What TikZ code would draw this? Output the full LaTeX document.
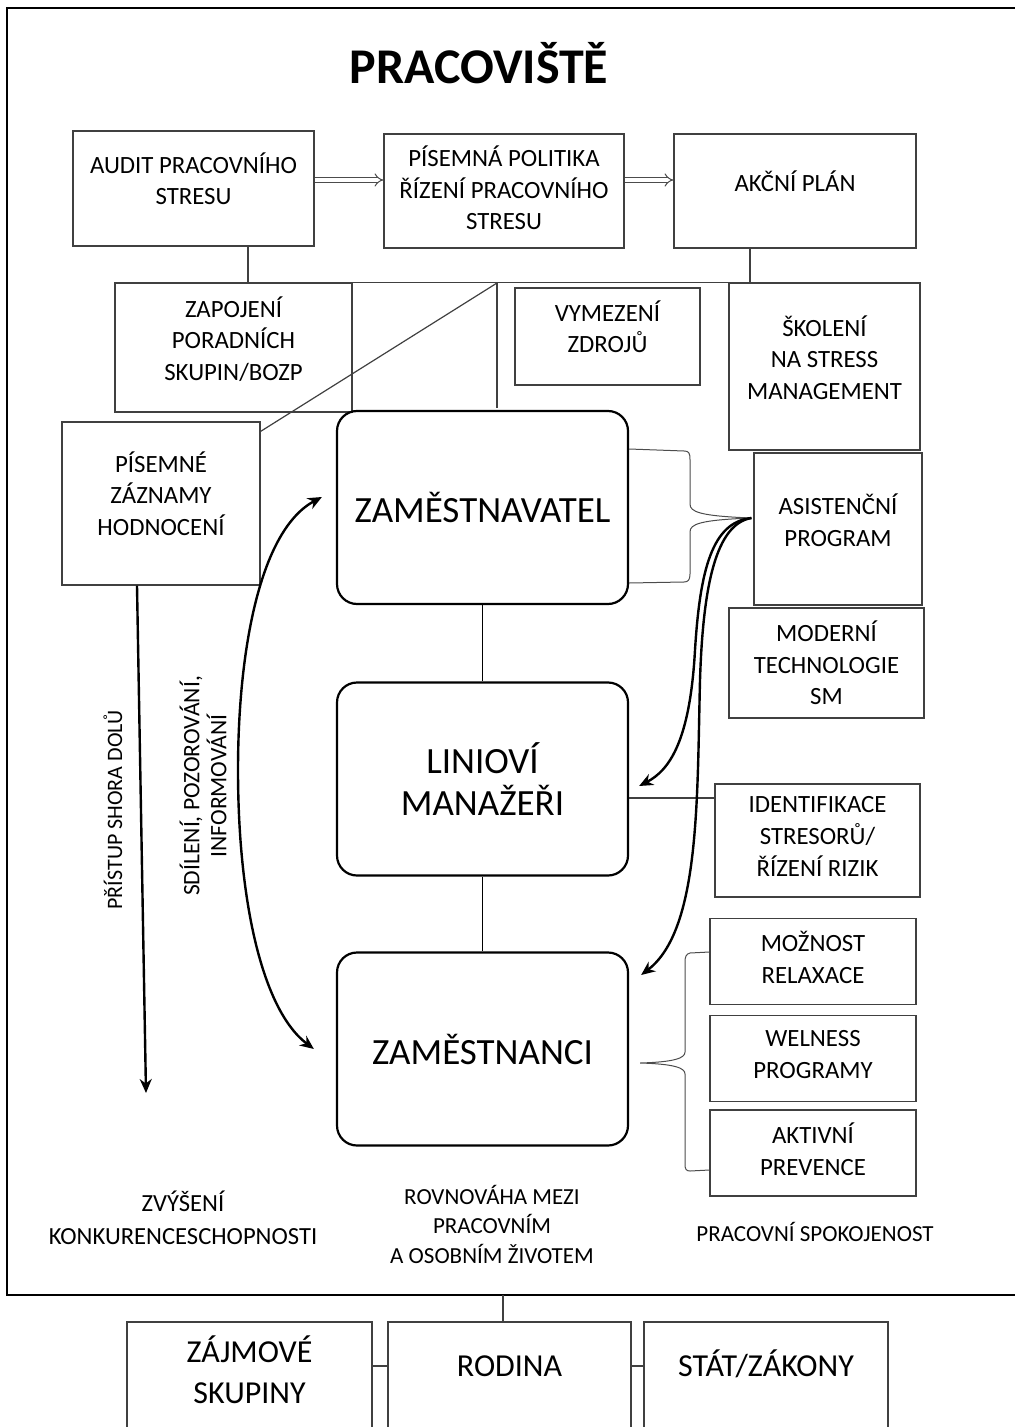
\documentclass[tikz,border=0pt]{standalone}
\usepackage{fontspec}
\setmainfont{Carlito}
\usetikzlibrary{arrows.meta, positioning}

\tikzset{
  box/.style={draw=black!75, line width=0.6pt, align=center, inner sep=0pt,
    font=\fontsize{12.4}{15.8}\selectfont},
  lift/.style={text depth=#1},
  mainbox/.style={draw, line width=1.1pt, rounded corners=10pt, align=center,
    minimum width=145.5pt, minimum height=96.5pt, font=\fontsize{18.5}{21}\selectfont},
  outerbox/.style={box, font=\fontsize{16}{20.5}\selectfont,
    minimum width=#1, minimum height=59pt},
  link/.style={draw=black!75, line width=0.6pt},
  flow/.style={draw=black!70, double, double distance=1.8pt, line width=0.5pt, -{Implies}},
  curvy/.style={line width=1.2pt, -{Stealth[length=7pt,width=6pt]}},
  curly/.style={draw=black!70, line width=0.5pt},
  note/.style={font=\fontsize{11.5}{16.5}\selectfont, align=center},
}

\begin{document}
\begin{tikzpicture}[x=0.5pt, y=-0.5pt]
  \useasboundingbox (0,0) rectangle (1014,1427);

  % ── Workplace frame ──
  \draw[line width=0.7pt] (7,8) rectangle (1025,1295);
  \node[font=\bfseries\fontsize{25}{28}\selectfont] (title) at (479,63) {PRACOVIŠTĚ};

  % ── Top row ──
  \node[box, lift=10pt, minimum width=120.5pt, minimum height=57.5pt] (audit)
    at (193.5,188.5) {AUDIT PRACOVNÍHO\\STRESU};
  \node[box, lift=3pt, minimum width=120pt, minimum height=57pt] (politika)
    at (504,191) {PÍSEMNÁ POLITIKA\\ŘÍZENÍ PRACOVNÍHO\\STRESU};
  \node[box, lift=10pt, minimum width=121pt, minimum height=57pt] (plan)
    at (795,191) {AKČNÍ PLÁN};
  \draw[flow] ([yshift=4.25pt]audit.east) -- ([yshift=4.25pt]audit.east -| politika.west);
  \draw[flow] ([yshift=5.5pt]politika.east) -- ([yshift=5.5pt]politika.east -| plan.west);

  % ── Second row ──
  \node[box, lift=9pt, minimum width=118.5pt, minimum height=64.5pt] (poradni)
    at (233.5,347.5) {ZAPOJENÍ\\PORADNÍCH\\SKUPIN/BOZP};
  \node[box, lift=10pt, minimum width=92.5pt, minimum height=48.5pt] (zdroje)
    at (607.5,336.5) {VYMEZENÍ\\ZDROJŮ};
  \node[box, lift=9pt, minimum width=95.5pt, minimum height=83.5pt] (skoleni)
    at (824.5,366.5) {ŠKOLENÍ\\NA STRESS\\MANAGEMENT};
  \node[box, lift=10pt, minimum width=99pt, minimum height=81.5pt] (zaznamy)
    at (161,503.5) {PÍSEMNÉ\\ZÁZNAMY\\HODNOCENÍ};
  \draw[link] ([xshift=27.25pt]audit.south) -- ([xshift=27.25pt]audit.south |- poradni.north);
  \draw[link] ([xshift=-22.5pt]plan.south) -- ([xshift=-22.5pt]plan.south |- skoleni.north);
  \draw[link] (poradni.north west) -- (skoleni.north east);
  \coordinate (split) at (497,283);
  \draw[link] (split) -- ++(0,125);
  \draw[link] (split) -- ([yshift=-5pt]zaznamy.north east);

  % ── Main column ──
  \node[mainbox] (zam) at (482.5,507.5) {ZAMĚSTNAVATEL};
  \node[mainbox] (mgr) at (482.5,779) {LINIOVÍ\\MANAŽEŘI};
  \node[mainbox] (emp) at (482.5,1049) {ZAMĚSTNANCI};
  \draw[line width=0.8pt] (zam) -- (mgr);
  \draw[line width=0.8pt] (mgr) -- (emp);

  % ── Right column ──
  \node[box, lift=9pt, minimum width=84pt, minimum height=76pt] (eap)
    at (838,529) {ASISTENČNÍ\\PROGRAM};
  \node[box, minimum width=97.5pt, minimum height=55pt] (tech)
    at (826.5,663) {MODERNÍ\\TECHNOLOGIE\\SM};
  \node[box, lift=4pt, minimum width=102.5pt, minimum height=56.5pt] (ident)
    at (817.5,840.5) {IDENTIFIKACE\\STRESORŮ/\\ŘÍZENÍ RIZIK};
  \foreach \n/\y/\txt in {relax/961.5/{MOŽNOST\\RELAXACE},
                          well/1058.5/{WELNESS\\PROGRAMY},
                          prev/1153/{AKTIVNÍ\\PREVENCE}}
    \node[box, lift=4pt, minimum width=103pt, minimum height=43pt] (\n) at (813,\y) {\txt};
  \draw[link] ([yshift=-9.5pt]mgr.east) -- ([yshift=-9.5pt]mgr.east -| ident.west);

  % ── Braces ──
  \coordinate (tipA) at ([xshift=-1pt,yshift=5.5pt]eap.west);
  \draw[curly] ([yshift=29.25pt]zam.east) -- (684,451)
    .. controls (689,451) and (690,453) .. (690,460) -- (690,504)
    .. controls (690,512) and (700,516) .. (tipA)
    .. controls (700,520) and (690,524) .. (690,532) -- (690,574)
    .. controls (690,580) and (688,582) .. (684,582) -- ([yshift=-37.75pt]zam.east);
  \coordinate (tipB) at ([xshift=5.5pt,yshift=-7pt]emp.east);
  \draw[curly] ([yshift=4.75pt]relax.west) -- (690,953)
    .. controls (686,954) and (685,957) .. (685,962) -- (685,1052)
    .. controls (685,1058) and (675,1062) .. (tipB)
    .. controls (675,1064) and (685,1068) .. (685,1074) -- (685,1164)
    .. controls (685,1169) and (686,1171) .. (690,1171) -- ([yshift=-8.5pt]prev.west);

  % ── Curved arrows ──
  \draw[curvy] (tipA) .. controls (712,522) and (700,570) .. (695,650)
    .. controls (690,740) and (670,770) .. ([xshift=5pt,yshift=-3.5pt]mgr.east);
  \draw[curvy] (tipA) .. controls (716,524) and (703,585) .. (700,680)
    .. controls (697,800) and (700,930) .. ([xshift=6pt,yshift=37pt]emp.east);
  \draw[curvy, {Stealth[length=7pt,width=6pt]}-{Stealth[length=7pt,width=6pt]}]
    ([xshift=-7pt,yshift=5.25pt]zam.west) .. controls (260,530) and (238,650) .. (238,770)
    .. controls (238,900) and (262,1010) .. ([xshift=-11pt]emp.west);
  \coordinate (down) at (146,1093);
  \draw[curvy] ([xshift=-12pt]zaznamy.south) -- (down);

  % ── Rotated labels ──
  \node[note, rotate=90, font=\fontsize{11}{14}\selectfont] (shora) at (113,810)
    {PŘÍSTUP SHORA DOLŮ};
  \node[note, rotate=90, font=\fontsize{11.8}{13.5}\selectfont] (sdileni) at (203,786)
    {SDÍLENÍ, POZOROVÁNÍ,\\INFORMOVÁNÍ};

  % ── Outcomes ──
  \node[note, font=\fontsize{12.3}{16.5}\selectfont] (konk) at (183,1218)
    {ZVÝŠENÍ\\KONKURENCESCHOPNOSTI};
  \node[note, font=\fontsize{11.5}{14.75}\selectfont] (rovnovaha) at (492,1224)
    {ROVNOVÁHA MEZI\\PRACOVNÍM\\A OSOBNÍM ŽIVOTEM};
  \node[note] (spokojenost) at (815,1232) {PRACOVNÍ SPOKOJENOST};

  % ── Outside the workplace ──
  \node[outerbox=122.5pt, lift=11pt] (zajmy) at (249.5,1381) {ZÁJMOVÉ\\SKUPINY};
  \node[outerbox=121.5pt, lift=15pt] (rodina) at (509.5,1381) {RODINA};
  \node[outerbox=122pt, lift=18pt] (stat) at (766,1381) {STÁT/ZÁKONY};
  \coordinate (foot) at (503,1295);
  \draw[link] (foot) -- (foot |- rodina.north);
  \draw[link] ([yshift=7.5pt]zajmy.east) -- ([yshift=7.5pt]zajmy.east -| rodina.west);
  \draw[link] ([yshift=7.5pt]rodina.east) -- ([yshift=7.5pt]rodina.east -| stat.west);
\end{tikzpicture}
\end{document}
